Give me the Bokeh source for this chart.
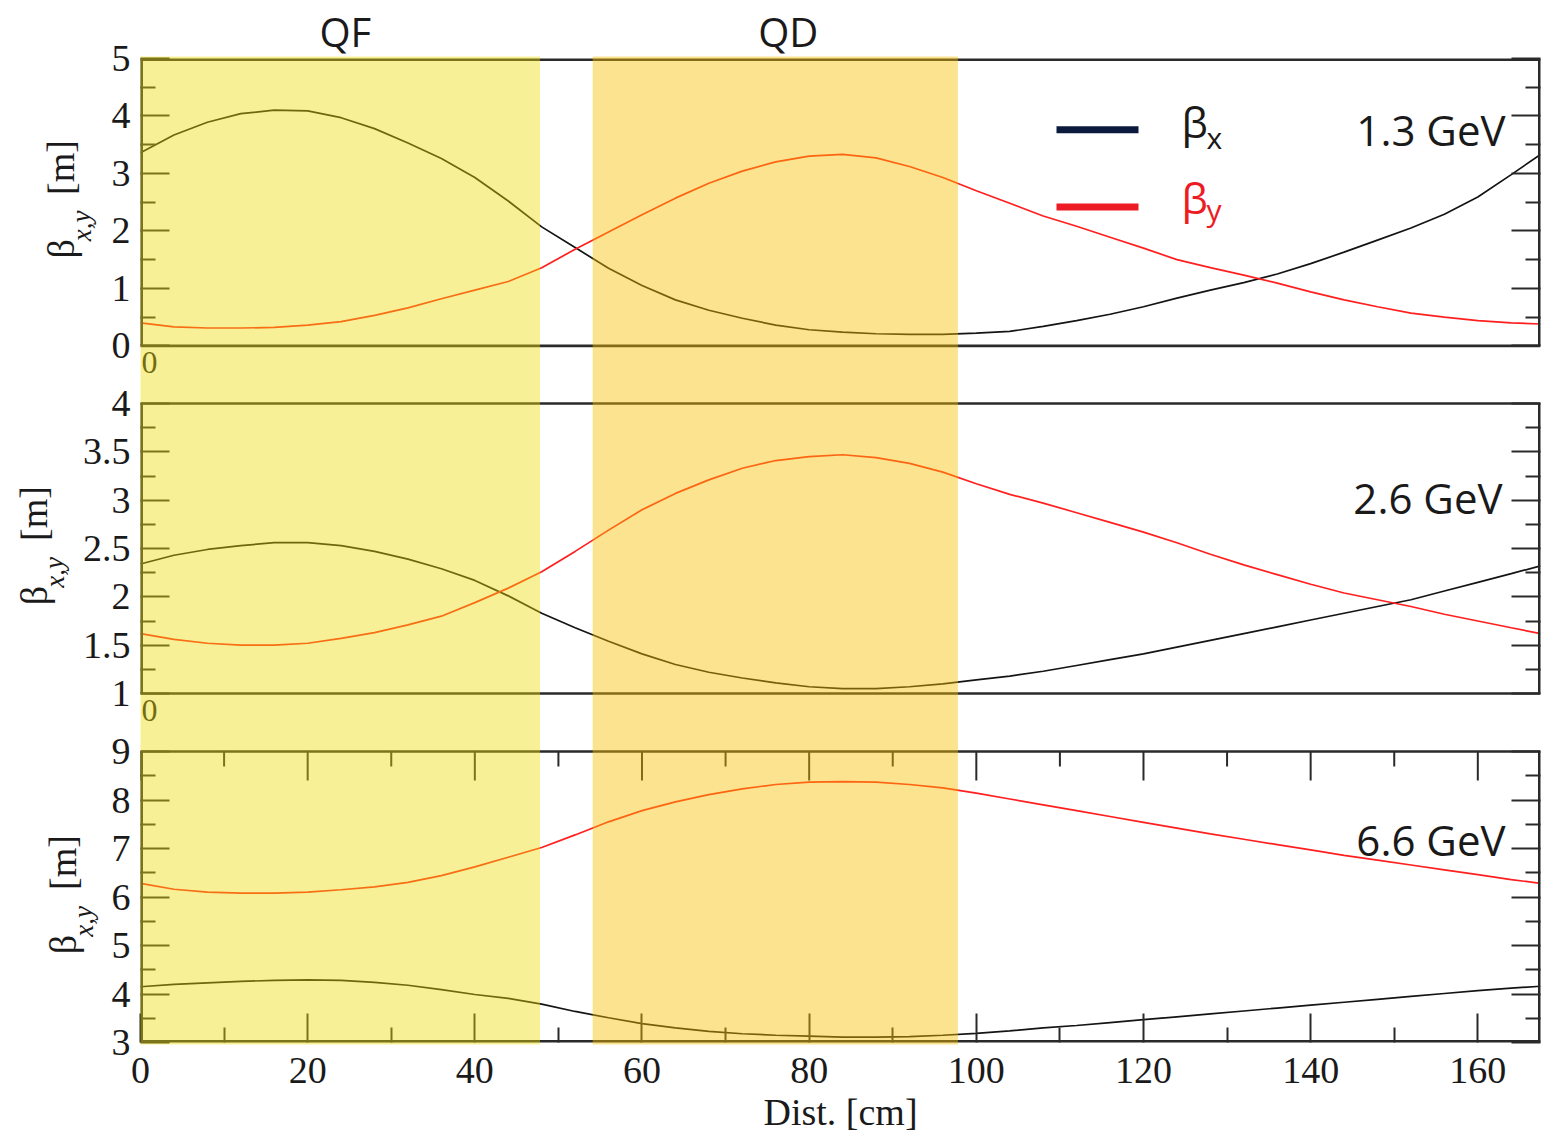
from bokeh.plotting import figure
from bokeh.models import Range1d, LinearAxis, FixedTicker
from bokeh.layouts import column, row
from bokeh.core.properties import value
from bokeh.embed import file_html
from bokeh.resources import INLINE

# ---------------- data ----------------
s_cm = [0, 4, 8, 12, 16, 20, 24, 28, 32, 36, 40, 44, 48, 52, 56, 60, 64, 68, 72, 76,
        80, 84, 88, 92, 96, 100, 104, 108, 112, 116, 120, 124, 128, 132, 136, 140,
        144, 148, 152, 156, 160, 164, 167.5]

beta_x_13 = [3.36, 3.67, 3.89, 4.04, 4.10, 4.09, 3.97, 3.78, 3.53, 3.26, 2.93, 2.52, 2.07,
             1.71, 1.35, 1.05, 0.80, 0.62, 0.48, 0.36, 0.28, 0.24, 0.21, 0.20, 0.20, 0.22,
             0.25, 0.34, 0.44, 0.55, 0.68, 0.83, 0.97, 1.10, 1.25, 1.43, 1.63, 1.84, 2.05,
             2.29, 2.59, 2.98, 3.33]
beta_y_13 = [0.40, 0.33, 0.31, 0.31, 0.32, 0.36, 0.42, 0.53, 0.66, 0.82, 0.97, 1.12, 1.36,
             1.68, 1.98, 2.28, 2.57, 2.83, 3.04, 3.20, 3.30, 3.33, 3.27, 3.12, 2.93, 2.70,
             2.48, 2.26, 2.08, 1.89, 1.70, 1.50, 1.36, 1.23, 1.09, 0.94, 0.80, 0.68, 0.57,
             0.50, 0.44, 0.40, 0.38]

beta_x_26 = [2.34, 2.43, 2.49, 2.53, 2.56, 2.56, 2.53, 2.47, 2.39, 2.29, 2.17, 2.01, 1.83,
             1.68, 1.54, 1.41, 1.30, 1.22, 1.16, 1.11, 1.07, 1.05, 1.05, 1.07, 1.10, 1.14,
             1.18, 1.23, 1.29, 1.35, 1.41, 1.48, 1.55, 1.62, 1.69, 1.76, 1.83, 1.90, 1.97,
             2.06, 2.15, 2.24, 2.32]
beta_y_26 = [1.62, 1.56, 1.52, 1.50, 1.50, 1.52, 1.57, 1.63, 1.71, 1.80, 1.94, 2.09, 2.26,
             2.47, 2.69, 2.90, 3.07, 3.21, 3.33, 3.41, 3.45, 3.47, 3.44, 3.38, 3.29, 3.17,
             3.06, 2.97, 2.87, 2.77, 2.67, 2.56, 2.44, 2.33, 2.23, 2.13, 2.04, 1.97, 1.90,
             1.82, 1.75, 1.68, 1.62]

beta_x_66 = [4.15, 4.20, 4.23, 4.26, 4.28, 4.29, 4.28, 4.24, 4.18, 4.09, 3.99, 3.91, 3.79,
             3.64, 3.51, 3.39, 3.30, 3.23, 3.18, 3.15, 3.13, 3.11, 3.11, 3.12, 3.15, 3.19,
             3.24, 3.30, 3.35, 3.41, 3.47, 3.53, 3.59, 3.65, 3.71, 3.77, 3.83, 3.89, 3.95,
             4.01, 4.07, 4.12, 4.16]
beta_y_66 = [6.28, 6.16, 6.10, 6.08, 6.08, 6.10, 6.15, 6.21, 6.30, 6.44, 6.62, 6.82, 7.02,
             7.28, 7.55, 7.78, 7.96, 8.11, 8.23, 8.32, 8.37, 8.38, 8.37, 8.32, 8.25, 8.14,
             8.02, 7.90, 7.78, 7.66, 7.54, 7.42, 7.30, 7.19, 7.08, 6.97, 6.86, 6.76, 6.66,
             6.56, 6.46, 6.36, 6.28]

energies = ["1.3 GeV", "2.6 GeV", "6.6 GeV"]
magnet_names = ["QF", "QD"]
magnet_start = [0, 54.1]
magnet_end = [47.8, 97.8]
magnet_label_x = [24.5, 77.5]

x_ticks = [0, 20, 40, 60, 80, 100, 120, 140, 160]
x_minor = [10, 30, 50, 70, 90, 110, 130, 150]
y_ticks_13 = [0, 1, 2, 3, 4, 5]
y_minor_13 = [0.5, 1.5, 2.5, 3.5, 4.5]
y_ticks_26 = [1, 1.5, 2, 2.5, 3, 3.5, 4]
y_minor_26 = [1.25, 1.75, 2.25, 2.75, 3.25, 3.75]
y_tick_labels_26 = ["1", "1.5", "2", "2.5", "3", "3.5", "4"]
y_ticks_66 = [3, 4, 5, 6, 7, 8, 9]
y_minor_66 = [3.5, 4.5, 5.5, 6.5, 7.5, 8.5]

# ---------------- layout / style ----------------
TOTAL_W = 1544
FRAME_L = 140
BR = 4
X_MAX = 167.5
FRAME_W = TOTAL_W - FRAME_L - BR
XS = FRAME_W / X_MAX
BOX = "#2a2a2a"
TXT = "#1a1a1a"
BLACK = "#141414"
RED = "#ff1f1f"
LEG_NAVY = "#0b1a3c"
LEG_RED = "#ed1c24"
BAND_COLORS = ["#ecdb05", "#f8bf00"]
BAND_ALPHAS = [0.42, 0.44]
SERIF = "Liberation Serif"
SANS = "Open Sans"
MAJ, MIN = 29, 15

# page pixel geometry of each panel (canvas, frame, drawn box)
specs = [
    dict(lo=0, hi=5, c0=0, f0=55, f1=381, c1=381, b0=55, b1=345, wl=100),
    dict(lo=1, hi=4, c0=381, f0=381, f1=729, c1=729, b0=403, b1=693, wl=72),
    dict(lo=3, hi=9, c0=729, f0=729, f1=1042, c1=1136, b0=751, b1=1042, wl=100),
]
for sp in specs:
    sp["ppu"] = (sp["b1"] - sp["b0"]) / (sp["hi"] - sp["lo"])
    sp["ys"] = sp["lo"] - (sp["f1"] - sp["b1"]) / sp["ppu"]
    sp["ye"] = sp["hi"] + (sp["b0"] - sp["f0"]) / sp["ppu"]


def dx(px):
    return (px - FRAME_L) / XS


def dy(i, py):
    sp = specs[i]
    return sp["hi"] - (py - sp["b0"]) / sp["ppu"]


def make_axis(ticks, minor, labels=True, overrides=None):
    kw = dict(
        ticker=FixedTicker(ticks=ticks, minor_ticks=minor),
        axis_line_color=None,
        major_tick_in=MAJ, major_tick_out=0,
        minor_tick_in=MIN, minor_tick_out=0,
        major_tick_line_color=BOX, major_tick_line_width=2,
        minor_tick_line_color=BOX, minor_tick_line_width=2,
        major_label_text_font=SERIF,
        major_label_text_color=TXT,
    )
    if labels:
        kw.update(major_label_text_font_size="38px", major_label_standoff=10)
    else:
        kw.update(major_label_text_font_size="0px", major_label_standoff=0,
                  major_label_text_alpha=0)
    if overrides:
        kw["major_label_overrides"] = overrides
    return LinearAxis(**kw)


series = [(beta_x_13, beta_y_13), (beta_x_26, beta_y_26), (beta_x_66, beta_y_66)]
yticks = [(y_ticks_13, y_minor_13), (y_ticks_26, y_minor_26), (y_ticks_66, y_minor_66)]
label_pos = [(60, 247), (33, 595), (62, 944)]
energy_mid = [(1505, 127), (1502, 497), (1505, 839)]
stray_zero_py = [362, 710]

rows = []
for i, sp in enumerate(specs):
    yr = Range1d(sp["ys"], sp["ye"])
    h = sp["c1"] - sp["c0"]
    tb = sp["f0"] - sp["c0"]
    bb = sp["c1"] - sp["f1"]
    wl = sp["wl"]

    # ---- main panel ----
    p = figure(width=TOTAL_W - wl, height=h,
               x_range=Range1d(0, X_MAX), y_range=yr,
               x_axis_location=None, y_axis_location=None,
               toolbar_location=None, output_backend="svg",
               min_border_left=FRAME_L - wl, min_border_right=BR,
               min_border_top=tb, min_border_bottom=bb,
               outline_line_color=None,
               background_fill_color="white", border_fill_color="white")
    p.xgrid.visible = False
    p.ygrid.visible = False

    bx, by = series[i]
    p.line(s_cm, bx, line_color=BLACK, line_width=1.7)
    p.line(s_cm, by, line_color=RED, line_width=1.7)

    lo, hi = sp["lo"], sp["hi"]
    top_w = 5 if i == 0 else 2.6
    bot_w = 5 if i == 2 else 2.6
    p.segment(x0=[0, 0, 0, X_MAX], y0=[lo, hi, lo, lo],
              x1=[X_MAX, X_MAX, 0, X_MAX], y1=[lo, hi, hi, hi],
              line_color=BOX, line_width=[bot_w, top_w, 5, 5])

    yt, ym = yticks[i]
    ov = None
    if i == 1:
        ov = {}
        for t, lab in zip(y_ticks_26, y_tick_labels_26):
            ov[t] = lab
            ov[str(t)] = lab
    p.add_layout(make_axis(yt, ym, True, ov), "left")
    p.add_layout(make_axis(yt, ym, False), "right")

    if i == 2:
        bottom = make_axis(x_ticks, x_minor, True)
        bottom.major_label_standoff = 15
        bottom.axis_label = "Dist. [cm]"
        bottom.axis_label_text_font = SERIF
        bottom.axis_label_text_font_size = "38px"
        bottom.axis_label_text_font_style = "normal"
        bottom.axis_label_text_color = TXT
        bottom.axis_label_standoff = 5
        p.add_layout(bottom, "below")
        # inward ticks hanging from the top edge of the box
        p.segment(x0=x_ticks, x1=x_ticks, y0=[hi] * len(x_ticks),
                  y1=[hi - MAJ / sp["ppu"]] * len(x_ticks),
                  line_color=BOX, line_width=2)
        p.segment(x0=x_minor, x1=x_minor, y0=[hi] * len(x_minor),
                  y1=[hi - MIN / sp["ppu"]] * len(x_minor),
                  line_color=BOX, line_width=2)
    else:
        # leftover "0" of the hidden x axis, in the gap under the panel
        p.text(x=[dx(141)], y=[dy(i, stray_zero_py[i])], text=["0"], text_align="left",
               text_baseline="middle", text_font=value(SERIF),
               text_font_size=value("32px"), text_color=TXT)

    if i == 0:
        qov = {}
        for c, n in zip(magnet_label_x, magnet_names):
            qov[c] = n
            qov[str(c)] = n
        qa = LinearAxis(ticker=FixedTicker(ticks=magnet_label_x, minor_ticks=[]),
                        axis_line_color=None, major_tick_line_color=None,
                        minor_tick_line_color=None, major_tick_in=0, major_tick_out=0,
                        minor_tick_in=0, minor_tick_out=0,
                        major_label_overrides=qov, major_label_standoff=0,
                        major_label_text_font=SANS, major_label_text_font_size="40px",
                        major_label_text_color=TXT)
        p.add_layout(qa, "above")

        # legend drawn by hand (subscripted labels)
        p.segment(x0=[dx(1056)] * 2, x1=[dx(1138)] * 2, y0=[dy(0, 127), dy(0, 205)],
                  y1=[dy(0, 127), dy(0, 205)], line_color=[LEG_NAVY, LEG_RED], line_width=7)
        p.text(x=[dx(1181)] * 2, y=[dy(0, 119), dy(0, 195)], text=["β", "β"],
               text_font=value(SANS), text_font_size=value("42px"),
               text_color=[TXT, LEG_RED], text_baseline="middle")
        p.text(x=[dx(1206)] * 2, y=[dy(0, 135), dy(0, 207)], text=["x", "y"],
               text_font=value(SANS), text_font_size=value("30px"),
               text_color=[TXT, LEG_RED], text_baseline="middle")

    ex, ey = energy_mid[i]
    p.text(x=[dx(ex)], y=[dy(i, ey)], text=[energies[i]], text_align="right",
           text_baseline="middle", text_font=value(SANS),
           text_font_size=value("42px"), text_color=TXT)

    # magnet bands, translucent overlay on top of everything
    pad = 2 / sp["ppu"]
    p.quad(left=magnet_start, right=magnet_end, bottom=sp["ys"] - pad, top=sp["ye"] + pad,
           fill_color=BAND_COLORS, fill_alpha=BAND_ALPHAS, line_color=None,
           level="overlay")

    # ---- y-axis title strip (beta_{x,y} [m]) ----
    lf = figure(width=wl, height=h, x_range=Range1d(0, wl), y_range=yr,
                x_axis_location=None, y_axis_location=None,
                toolbar_location=None, output_backend="svg",
                min_border_left=0, min_border_right=0,
                min_border_top=tb, min_border_bottom=bb,
                outline_line_color=None,
                background_fill_color="white", border_fill_color="white")
    lf.xgrid.visible = False
    lf.ygrid.visible = False
    bxp, byp = label_pos[i]
    lf.text(x=[bxp, bxp], y=[dy(i, byp), dy(i, byp - 82)], text=["β", "[m]"],
            angle=1.5708, text_align="center", text_baseline="middle",
            text_font=value(SERIF), text_font_size=value("38px"), text_color=TXT)
    lf.text(x=[bxp + 21], y=[dy(i, byp - 23)], text=["x,y"],
            angle=1.5708, text_align="center", text_baseline="middle",
            text_font=value(SERIF), text_font_size=value("27px"),
            text_font_style="italic", text_color=TXT)

    rows.append(row(lf, p, spacing=0))

layout = column(*rows, spacing=0)
open("out.html", "w").write(file_html(layout, INLINE))
